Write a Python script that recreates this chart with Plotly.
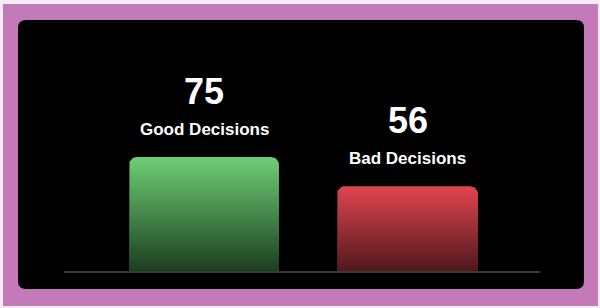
import numpy as np
import plotly.graph_objects as go

# Chart data
categories = ["Good Decisions", "Bad Decisions"]
values = [75, 56]
value_labels = ["75", "56"]

# Styling
bar_widths = [0.737, 0.693]
top_colors = ["#6fcf75", "#e2454f"]
bottom_colors = ["#1b3d1f", "#4d171c"]

W, H = 600, 308
x_pos = [0, 1]
px_per_x = 203.5
x_range = [-204 / px_per_x, (W - 204) / px_per_x]
px_per_y = 115 / 75
y_range = [-(H - 272) / px_per_y, 272 / px_per_y]


def rounded_bar(xc, width, height, r_px=8, n=10):
    """Outline of a bar with rounded top corners, in data units."""
    rx = r_px / px_per_x
    ry = r_px / px_per_y
    x0, x1 = xc - width / 2, xc + width / 2
    xs, ys = [x0], [0]
    t = np.linspace(np.pi, np.pi / 2, n)
    xs += list(x0 + rx + rx * np.cos(t))
    ys += list(height - ry + ry * np.sin(t))
    t = np.linspace(np.pi / 2, 0, n)
    xs += list(x1 - rx + rx * np.cos(t))
    ys += list(height - ry + ry * np.sin(t))
    xs += [x1, x0]
    ys += [0, 0]
    return xs, ys


fig = go.Figure()
for i, (cat, v) in enumerate(zip(categories, values)):
    xs, ys = rounded_bar(x_pos[i], bar_widths[i], v)
    fig.add_trace(go.Scatter(
        x=xs, y=ys, mode="lines", fill="toself", name=cat,
        line=dict(width=0, color=top_colors[i]),
        fillgradient=dict(type="vertical",
                          colorscale=[[0, bottom_colors[i]], [1, top_colors[i]]]),
        hoverinfo="skip", showlegend=False,
    ))

annotations = []
for i, (cat, v, lab) in enumerate(zip(categories, values, value_labels)):
    annotations.append(dict(
        x=x_pos[i], y=v, xref="x", yref="y", text=f"<b>{lab}</b>",
        showarrow=False, yanchor="middle", yshift=66,
        font=dict(family="Liberation Sans", size=36, color="white"),
    ))
    annotations.append(dict(
        x=x_pos[i], y=v, xref="x", yref="y", text=f"<b>{cat}</b>",
        showarrow=False, yanchor="middle", yshift=28,
        font=dict(family="Liberation Sans", size=17, color="white"),
    ))


def px_x(p):
    return p / W


def px_y(p):
    return 1 - p / H


# Rounded black panel
L, R, T, B, r = 18, 584, 20, 289, 8
panel_path = (
    f"M {px_x(L + r)} {px_y(T)} L {px_x(R - r)} {px_y(T)} "
    f"Q {px_x(R)} {px_y(T)} {px_x(R)} {px_y(T + r)} "
    f"L {px_x(R)} {px_y(B - r)} Q {px_x(R)} {px_y(B)} {px_x(R - r)} {px_y(B)} "
    f"L {px_x(L + r)} {px_y(B)} Q {px_x(L)} {px_y(B)} {px_x(L)} {px_y(B - r)} "
    f"L {px_x(L)} {px_y(T + r)} Q {px_x(L)} {px_y(T)} {px_x(L + r)} {px_y(T)} Z"
)

shapes = [
    dict(type="rect", xref="paper", yref="paper", layer="below",
         x0=px_x(3), x1=px_x(598), y0=px_y(306), y1=px_y(4),
         fillcolor="#c47ab9", line=dict(width=0)),
    dict(type="path", xref="paper", yref="paper", layer="below",
         path=panel_path, fillcolor="#000000", line=dict(width=0)),
    dict(type="line", xref="paper", yref="y", layer="above",
         x0=px_x(64), x1=px_x(540), y0=0, y1=0,
         line=dict(color="#3a3a3a", width=2)),
]

fig.update_layout(
    width=W, height=H,
    margin=dict(l=0, r=0, t=0, b=0),
    paper_bgcolor="#f5edf3",
    plot_bgcolor="rgba(0,0,0,0)",
    xaxis=dict(range=x_range, visible=False, fixedrange=True),
    yaxis=dict(range=y_range, visible=False, fixedrange=True),
    shapes=shapes,
    annotations=annotations,
)

fig.write_html("out.html")
